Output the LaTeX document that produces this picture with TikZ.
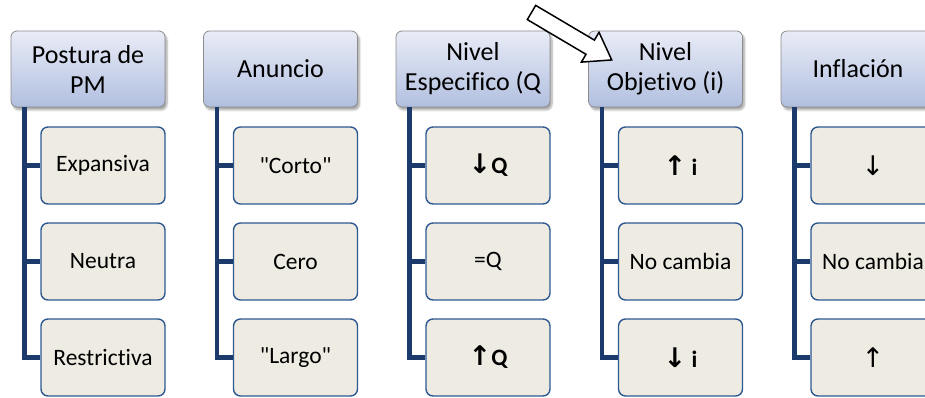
\documentclass[tikz,border=0pt]{standalone}
\usepackage{fontspec}
\setmainfont{Carlito}[Ligatures={TeXOff,CommonOff}]
\newfontfamily\arrowfont{DejaVu Sans}[Scale=1.15]
\usetikzlibrary{shadows.blur,calc}

\definecolor{headtop}{HTML}{E9ECF7}
\definecolor{headbot}{HTML}{B1BFDF}
\definecolor{headline}{HTML}{8C8C8C}
\definecolor{itemfill}{HTML}{EEEBE3}
\definecolor{itemline}{HTML}{2D5991}
\definecolor{connline}{HTML}{1C3B6C}

\newcommand{\up}{{\arrowfont\char"2191}}
\newcommand{\down}{{\arrowfont\char"2193}}

\tikzset{
  header/.style={draw=headline, line width=0.8pt, rounded corners=6pt,
    top color=headtop, bottom color=headbot,
    minimum width=154pt, minimum height=76pt, inner sep=2pt,
    align=center, font=\fontsize{26}{30}\selectfont,
    blur shadow={shadow xshift=2pt, shadow yshift=-3pt, shadow blur steps=6, shadow opacity=35}},
  item/.style={draw=itemline, line width=1.4pt, rounded corners=7pt, fill=itemfill,
    minimum width=124pt, minimum height=77pt, inner sep=1pt,
    font=\fontsize{23.5}{28}\selectfont},
  conn/.style={draw=connline, line width=4.5pt, line join=miter},
  blockarrow/.style={draw=black, line width=1.5pt, fill=white, line join=miter}
}

\begin{document}
\begin{tikzpicture}[x=1pt,y=1pt]
  \useasboundingbox (0,0) rectangle (925,398);

  % column headers
  \node[header] (h1) at (88,329)    {Postura de\\PM};
  \node[header] (h2) at (280.5,329) {Anuncio};
  \node[header] (h3) at (473,329)   {Nivel\\Especifico (Q};
  \node[header] (h4) at (665.5,329) {Nivel\\Objetivo (i)};
  \node[header] (h5) at (858,329)   {Inflación};

  % items, three per column
  \node[item] (c11) at (103,232.5)   {Expansiva};
  \node[item] (c12) at (103,136.5)   {Neutra};
  \node[item] (c13) at (103,40.5)    {Restrictiva};

  \node[item] (c21) at (295.5,232.5) {"Corto"};
  \node[item] (c22) at (295.5,136.5) {Cero};
  \node[item] (c23) at (295.5,40.5)  {"Largo"};

  \node[item] (c31) at (488,232.5)   {\bfseries\down Q};
  \node[item] (c32) at (488,136.5)   {=Q};
  \node[item] (c33) at (488,40.5)    {\bfseries\up Q};

  \node[item] (c41) at (680.5,232.5) {\bfseries\up\ i};
  \node[item] (c42) at (680.5,136.5) {No cambia};
  \node[item] (c43) at (680.5,40.5)  {\bfseries\down\ i};

  \node[item] (c51) at (873,232.5)   {\down};
  \node[item] (c52) at (873,136.5)   {No cambia};
  \node[item] (c53) at (873,40.5)    {\up};

  % tree connectors from each header to its items
  \foreach \k in {1,...,5}{
    \coordinate (s\k) at ($(h\k.south west)+(14,0)$);
    \draw[conn] (s\k) |- (c\k3.west);
    \draw[conn] (s\k) |- (c\k1.west);
    \draw[conn] (s\k) |- (c\k2.west);
  }

  % hollow block arrow pointing at the fourth header
  \coordinate (tail) at (531.5,385.5);
  \begin{scope}[shift={(tail)}, rotate=-30.6]
    \draw[blockarrow] (0,8.25) -- (68.2,8.25) -- (68.2,17.3) -- (93.2,0)
      -- (68.2,-17.3) -- (68.2,-8.25) -- (0,-8.25) -- cycle;
  \end{scope}
\end{tikzpicture}
\end{document}
